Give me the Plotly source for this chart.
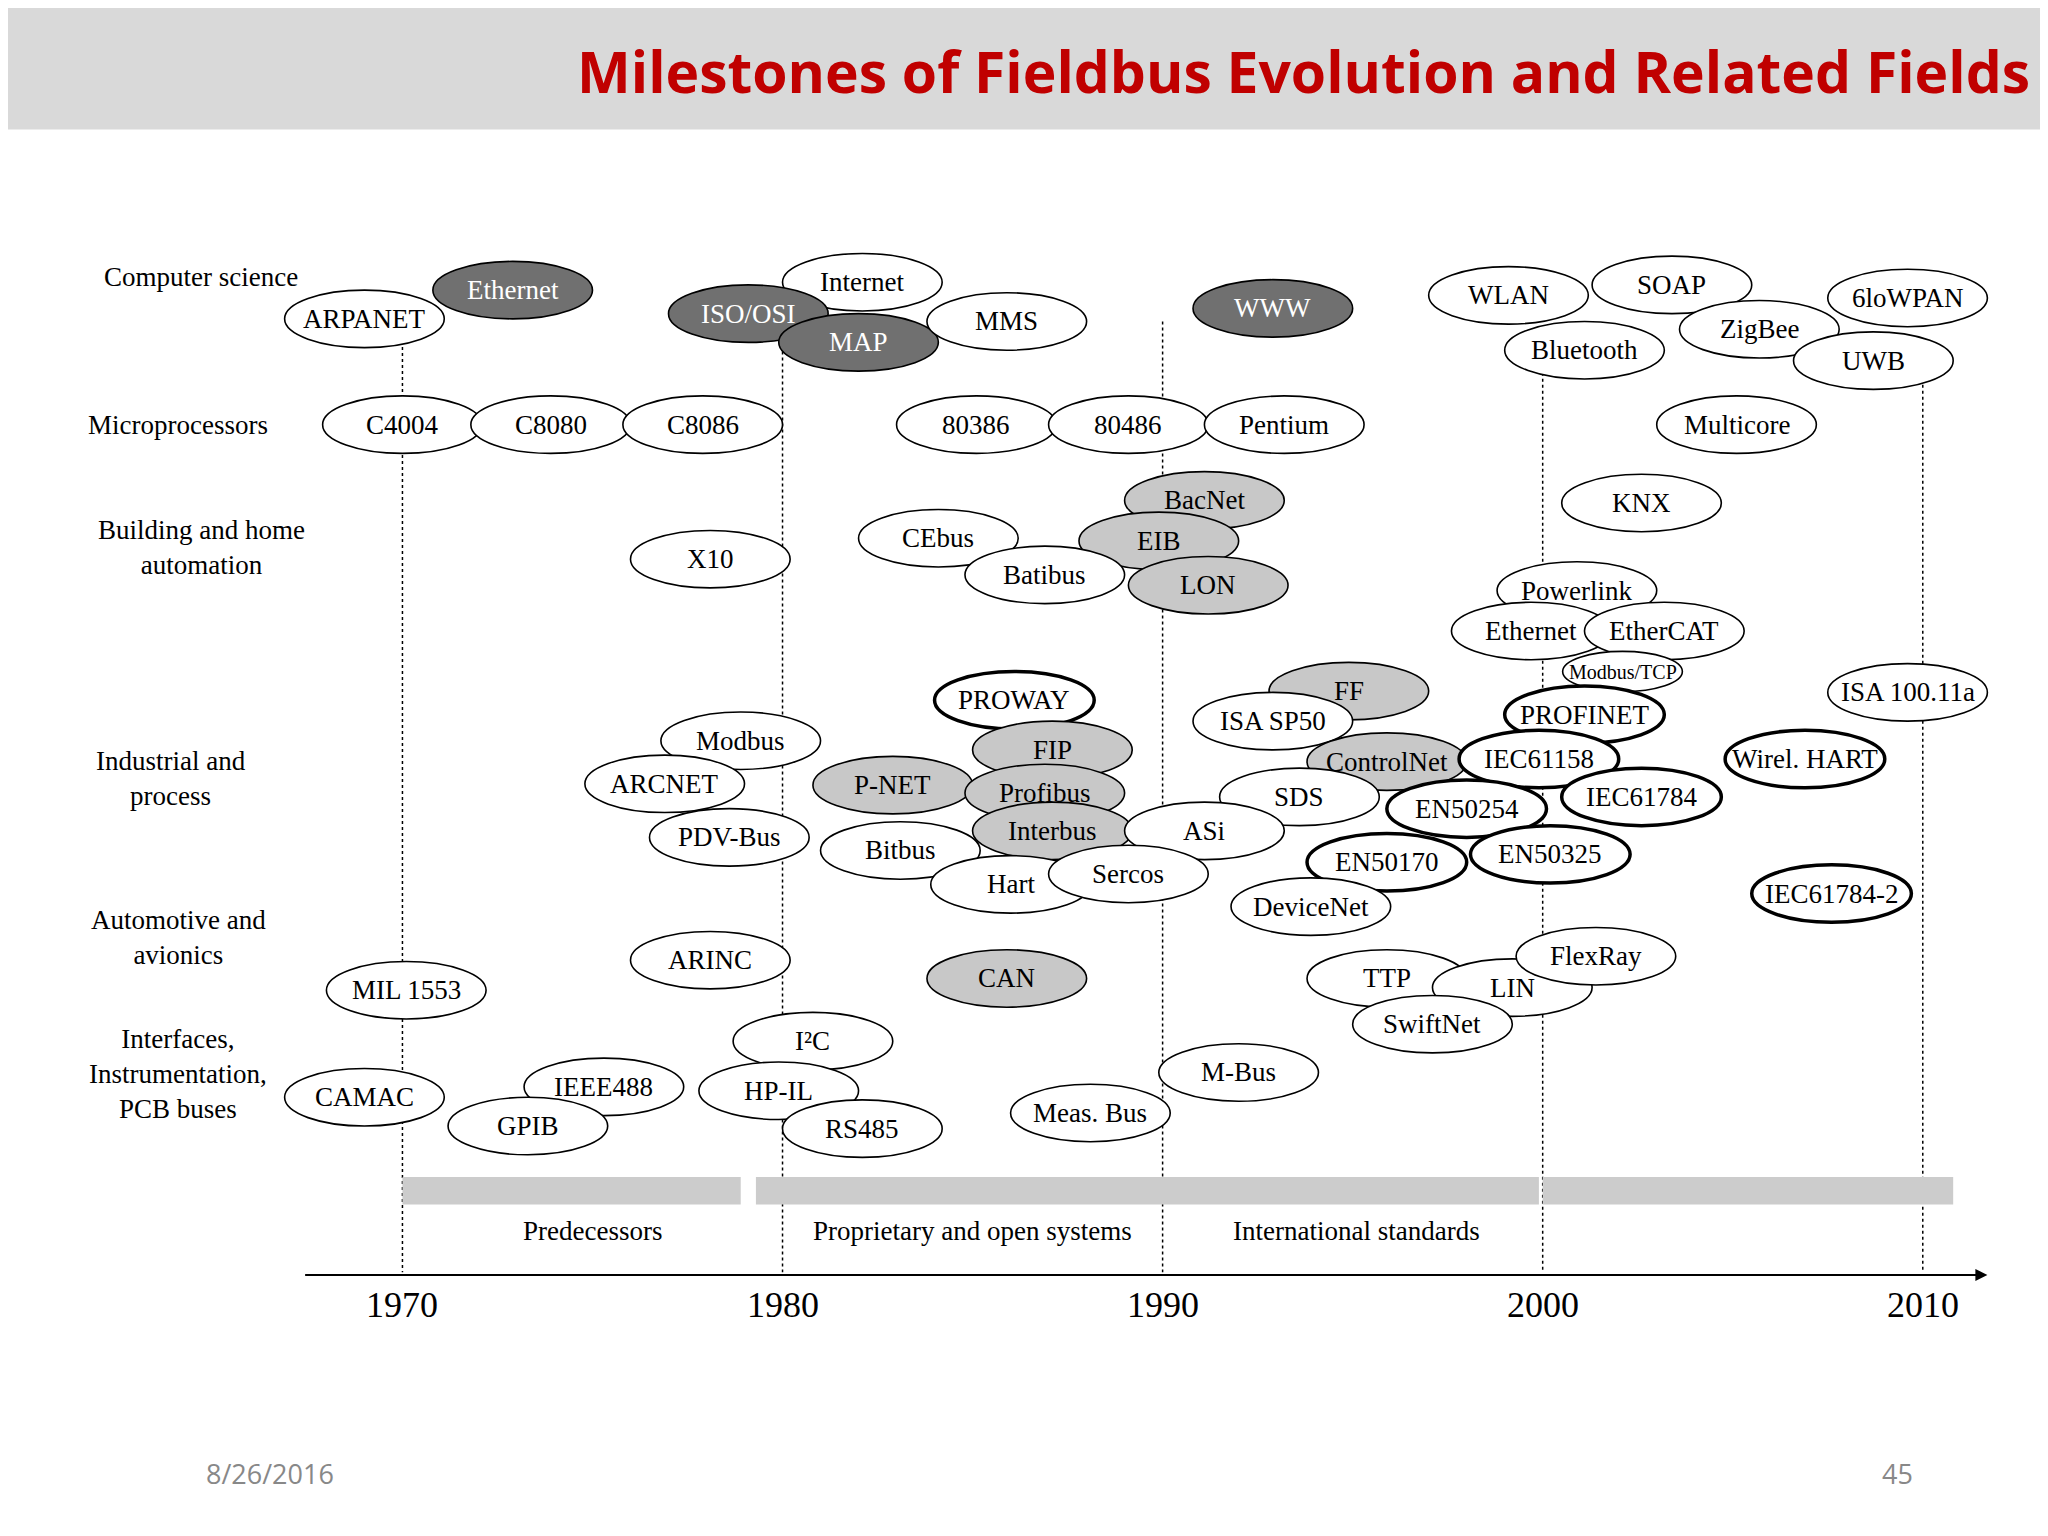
import plotly.graph_objects as go

# ellipse items: name, year (x), row position (y, picture units from top), style
names = ["ARPANET", "Ethernet", "Internet", "ISO/OSI", "MAP", "MMS", "WWW", "WLAN", "SOAP", "6loWPAN",
         "Bluetooth", "ZigBee", "UWB",
         "C4004", "C8080", "C8086", "80386", "80486", "Pentium", "Multicore",
         "BacNet", "CEbus", "EIB", "Batibus", "LON", "X10", "KNX",
         "Powerlink", "Ethernet", "EtherCAT", "Modbus/TCP", "PROFINET", "ISA 100.11a",
         "PROWAY", "FF", "ISA SP50", "Modbus", "FIP", "ControlNet", "IEC61158", "Wirel. HART",
         "ARCNET", "P-NET", "Profibus", "SDS", "EN50254", "IEC61784", "PDV-Bus", "Bitbus",
         "Interbus", "ASi", "EN50170", "EN50325", "Hart", "Sercos", "DeviceNet", "IEC61784-2",
         "ARINC", "CAN", "MIL 1553", "TTP", "LIN", "FlexRay", "SwiftNet",
         "I²C", "M-Bus", "IEEE488", "HP-IL", "CAMAC", "GPIB", "RS485", "Meas. Bus"]
years = [1969.0, 1972.9, 1982.1, 1979.1, 1982.0, 1985.9, 1992.9, 1999.1, 2003.4, 2009.6,
         2001.1, 2005.7, 2008.7,
         1970.0, 1973.9, 1977.9, 1985.1, 1989.1, 1993.2, 2005.1,
         1991.1, 1984.1, 1989.9, 1986.9, 1991.2, 1978.1, 2002.6,
         2000.9, 1999.7, 2003.2, 2002.1, 2001.1, 2009.6,
         1986.1, 1994.9, 1992.9, 1978.9, 1987.1, 1995.9, 1999.9, 2006.9,
         1976.9, 1982.9, 1986.9, 1993.6, 1998.0, 2002.6, 1978.6, 1983.1,
         1987.1, 1991.1, 1995.9, 2000.2, 1986.0, 1989.1, 1993.9, 2007.6,
         1978.1, 1985.9, 1970.1, 1995.9, 1999.2, 2001.4, 1997.1,
         1980.8, 1992.0, 1975.3, 1979.9, 1969.0, 1973.3, 1982.1, 1988.1]
rows = [238, 216, 210, 234, 256, 240, 230, 220, 212, 222,
        262, 246, 270,
        319, 319, 319, 319, 319, 319, 319,
        377, 406, 408, 434, 442, 422, 379,
        446, 477, 477, 508, 541, 524,
        530, 523, 546, 561, 568, 577, 575, 575,
        594, 595, 601, 604, 613, 604, 635, 645,
        630, 630, 654, 648, 671, 663, 688, 678,
        729, 743, 752, 743, 750, 726, 778,
        791, 815, 826, 829, 834, 856, 858, 846]
# 0 white, 1 light grey, 2 dark grey, 3 white with thick border
styles = [0, 2, 0, 2, 2, 0, 2, 0, 0, 0,
          0, 0, 0,
          0, 0, 0, 0, 0, 0, 0,
          1, 0, 1, 0, 1, 0, 0,
          0, 0, 0, 0, 3, 0,
          3, 1, 0, 0, 1, 1, 3, 3,
          0, 1, 1, 0, 3, 3, 0, 0,
          1, 0, 3, 3, 0, 0, 0, 3,
          0, 1, 0, 0, 0, 0, 0,
          0, 0, 0, 0, 0, 0, 0, 0]

row_labels = ["Computer science", "Microprocessors", "Building and home<br>automation",
              "Industrial and<br>process", "Automotive and<br>avionics",
              "Interfaces,<br>Instrumentation,<br>PCB buses"]
row_label_y = [206, 319, 413, 590, 712, 816]
row_label_x = [1964.7, 1964.1, 1964.7, 1963.9, 1964.1, 1964.1]

tick_years = [1970, 1980, 1990, 2000, 2010]
line_tops = [255, 240, 240, 270, 270]

phases = ["Predecessors", "Proprietary and open systems", "International standards"]
phase_x = [1975.0, 1985.0, 1995.1]
band_starts = [1970.0, 1979.3, 2000.0]
band_ends = [1978.9, 1999.9, 2010.8]

fig = go.Figure()
fills = ["white", "#c8c8c8", "#707070", "white"]
tcol = ["black", "black", "white", "black"]
shapes = []
annots = []
hw, hh = 2.1, 22
for n, x, y, s in zip(names, years, rows, styles):
    w = hw * (0.75 if n == "Modbus/TCP" else 1.0)
    h = hh * (0.7 if n == "Modbus/TCP" else 1.0)
    shapes.append(dict(type="circle", xref="x", yref="y", x0=x - w, x1=x + w, y0=y - h, y1=y + h,
                       fillcolor=fills[s], line=dict(color="black", width=3.5 if s == 3 else 1.6)))
    annots.append(dict(x=x, y=y, xref="x", yref="y", text=n, showarrow=False,
                       font=dict(family="Liberation Serif", size=20 if n == "Modbus/TCP" else 27, color=tcol[s])))

for t, yt in zip(tick_years, line_tops):
    shapes.append(dict(type="line", xref="x", yref="y", x0=t, x1=t, y0=yt, y1=968,
                       line=dict(color="black", width=1.5, dash="dot"), layer="below"))
    annots.append(dict(x=t, y=993, xref="x", yref="y", text=str(t), showarrow=False,
                       font=dict(family="Liberation Serif", size=36, color="black")))

for a, b in zip(band_starts, band_ends):
    shapes.append(dict(type="rect", xref="x", yref="y", x0=a, x1=b, y0=895, y1=916,
                       fillcolor="#cccccc", line=dict(width=0), layer="below"))
for p, x in zip(phases, phase_x):
    annots.append(dict(x=x, y=936, xref="x", yref="y", text=p, showarrow=False,
                       font=dict(family="Liberation Serif", size=27, color="black")))

for l, x, y in zip(row_labels, row_label_x, row_label_y):
    annots.append(dict(x=x, y=y, xref="x", yref="y", text=l, showarrow=False, align="center",
                       font=dict(family="Liberation Serif", size=27, color="black")))

# time axis arrow
annots.append(dict(x=2011.7, y=970, ax=1967.4, ay=970, xref="x", yref="y", axref="x", ayref="y",
                   text="", showarrow=True, arrowhead=2, arrowsize=1.2, arrowwidth=2, arrowcolor="black"))

# title band and footer
shapes.append(dict(type="rect", xref="paper", yref="paper", x0=0, x1=1, y0=1 - 93 / 1176, y1=1,
                   fillcolor="#d9d9d9", line=dict(width=0), layer="below"))
annots.append(dict(x=1550 / 1568, y=1 - 48 / 1176, xref="paper", yref="paper", xanchor="right",
                   yanchor="middle",
                   text="<b>Milestones of Fieldbus Evolution and Related Fields</b>", showarrow=False,
                   font=dict(family="Open Sans", size=57, color="#c00000")))
annots.append(dict(x=150 / 1568, y=1 - 1122 / 1176, xref="paper", yref="paper", yanchor="middle",
                   text="8/26/2016", showarrow=False, font=dict(family="Open Sans", size=27, color="#888888")))
annots.append(dict(x=1460 / 1568, y=1 - 1122 / 1176, xref="paper", yref="paper", yanchor="middle",
                   text="45", showarrow=False, font=dict(family="Open Sans", size=27, color="#888888")))

fig.update_layout(width=2048, height=1536, margin=dict(l=0, r=0, t=0, b=0),
                  plot_bgcolor="white", paper_bgcolor="white", showlegend=False,
                  shapes=shapes, annotations=annots)
fig.update_xaxes(range=[1970 - 302 / 29.1, 1970 + 1266 / 29.1], visible=False)
fig.update_yaxes(range=[1176, 0], visible=False)
fig.write_html("out.html")
